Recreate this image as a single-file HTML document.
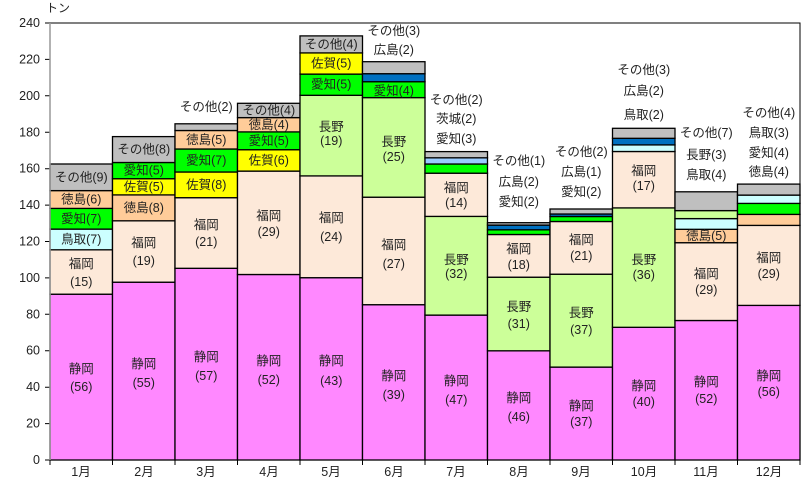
<!DOCTYPE html>
<html><head><meta charset="utf-8"><style>
body{margin:0;background:#fff}
svg{display:block;font-family:"Liberation Sans","Noto Sans CJK JP",sans-serif}
text{font-size:12.5px;fill:#222}
rect{stroke:#000;stroke-width:1.3}
</style></head><body>
<svg width="808" height="491" viewBox="0 0 808 491" xmlns="http://www.w3.org/2000/svg">
<rect x="0" y="0" width="808" height="491" fill="#fff" style="stroke:none"/>
<rect x="50" y="23" width="750" height="437" fill="#fff" style="stroke:#000;stroke-width:1"/>
<g style="font-size:13px" text-anchor="end" dominant-baseline="central">
<text x="40" y="460">0</text><text x="40" y="423.6">20</text><text x="40" y="387.2">40</text><text x="40" y="350.7">60</text><text x="40" y="314.3">80</text><text x="40" y="277.9">100</text><text x="40" y="241.5">120</text><text x="40" y="205.1">140</text><text x="40" y="168.7">160</text><text x="40" y="132.3">180</text><text x="40" y="95.8">200</text><text x="40" y="59.4">220</text><text x="40" y="23">240</text>
</g>
<path d="M45 460H50M45 423.6H50M45 387.2H50M45 350.7H50M45 314.3H50M45 277.9H50M45 241.5H50M45 205.1H50M45 168.7H50M45 132.3H50M45 95.8H50M45 59.4H50M45 23H50" stroke="#000"/>
<path d="M50 460v5M112.5 460v5M175 460v5M237.5 460v5M300 460v5M362.5 460v5M425 460v5M487.5 460v5M550 460v5M612.5 460v5M675 460v5M737.5 460v5M800 460v5" stroke="#000"/>
<text x="46" y="12" style="font-size:12px">トン</text>
<g text-anchor="middle" style="font-size:12px">
<text x="81" y="476">1月</text><text x="144" y="476">2月</text><text x="206" y="476">3月</text><text x="269" y="476">4月</text><text x="331" y="476">5月</text><text x="394" y="476">6月</text><text x="456" y="476">7月</text><text x="519" y="476">8月</text><text x="581" y="476">9月</text><text x="644" y="476">10月</text><text x="706" y="476">11月</text><text x="769" y="476">12月</text>
</g>
<!-- Jan -->
<rect x="50" y="294.2" width="62.5" height="165.8" fill="#FF88FF"/>
<rect x="50" y="249.8" width="62.5" height="44.4" fill="#FDE9D9"/>
<rect x="50" y="229.1" width="62.5" height="20.7" fill="#CCFFFF"/>
<rect x="50" y="208.4" width="62.5" height="20.7" fill="#00FF00"/>
<rect x="50" y="190.6" width="62.5" height="17.8" fill="#FFCC99"/>
<rect x="50" y="164" width="62.5" height="26.6" fill="#BFBFBF"/>
<!-- Feb -->
<rect x="112.5" y="282.2" width="62.5" height="177.8" fill="#FF88FF"/>
<rect x="112.5" y="220.8" width="62.5" height="61.4" fill="#FDE9D9"/>
<rect x="112.5" y="194.9" width="62.5" height="25.9" fill="#FFCC99"/>
<rect x="112.5" y="178.7" width="62.5" height="16.2" fill="#FFFF00"/>
<rect x="112.5" y="162.5" width="62.5" height="16.2" fill="#00FF00"/>
<rect x="112.5" y="136.6" width="62.5" height="25.9" fill="#BFBFBF"/>
<!-- Mar -->
<rect x="175" y="268.3" width="62.5" height="191.7" fill="#FF88FF"/>
<rect x="175" y="197.7" width="62.5" height="70.6" fill="#FDE9D9"/>
<rect x="175" y="172" width="62.5" height="25.7" fill="#FFFF00"/>
<rect x="175" y="149" width="62.5" height="23" fill="#00FF00"/>
<rect x="175" y="130.5" width="62.5" height="18.5" fill="#FFCC99"/>
<rect x="175" y="123.8" width="62.5" height="6.7" fill="#BFBFBF"/>
<!-- Apr -->
<rect x="237.5" y="274.5" width="62.5" height="185.5" fill="#FF88FF"/>
<rect x="237.5" y="171.1" width="62.5" height="103.4" fill="#FDE9D9"/>
<rect x="237.5" y="149.7" width="62.5" height="21.4" fill="#FFFF00"/>
<rect x="237.5" y="131.9" width="62.5" height="17.8" fill="#00FF00"/>
<rect x="237.5" y="117.6" width="62.5" height="14.3" fill="#FFCC99"/>
<rect x="237.5" y="103.3" width="62.5" height="14.3" fill="#BFBFBF"/>
<!-- May -->
<rect x="300" y="277.7" width="62.5" height="182.3" fill="#FF88FF"/>
<rect x="300" y="175.9" width="62.5" height="101.8" fill="#FDE9D9"/>
<rect x="300" y="95.3" width="62.5" height="80.6" fill="#CCFF99"/>
<rect x="300" y="74.1" width="62.5" height="21.2" fill="#00FF00"/>
<rect x="300" y="52.9" width="62.5" height="21.2" fill="#FFFF00"/>
<rect x="300" y="35.9" width="62.5" height="17" fill="#BFBFBF"/>
<!-- Jun -->
<rect x="362.5" y="304.7" width="62.5" height="155.3" fill="#FF88FF"/>
<rect x="362.5" y="197.2" width="62.5" height="107.5" fill="#FDE9D9"/>
<rect x="362.5" y="97.6" width="62.5" height="99.6" fill="#CCFF99"/>
<rect x="362.5" y="81.7" width="62.5" height="15.9" fill="#00FF00"/>
<rect x="362.5" y="73.7" width="62.5" height="8" fill="#0070C0"/>
<rect x="362.5" y="61.7" width="62.5" height="12" fill="#BFBFBF"/>
<!-- Jul -->
<rect x="425" y="315.1" width="62.5" height="144.9" fill="#FF88FF"/>
<rect x="425" y="216.4" width="62.5" height="98.7" fill="#CCFF99"/>
<rect x="425" y="173.2" width="62.5" height="43.2" fill="#FDE9D9"/>
<rect x="425" y="164" width="62.5" height="9.2" fill="#00FF00"/>
<rect x="425" y="157.8" width="62.5" height="6.2" fill="#99CCFF"/>
<rect x="425" y="151.6" width="62.5" height="6.2" fill="#BFBFBF"/>
<!-- Aug -->
<rect x="487.5" y="350.8" width="62.5" height="109.2" fill="#FF88FF"/>
<rect x="487.5" y="277.2" width="62.5" height="73.6" fill="#CCFF99"/>
<rect x="487.5" y="234.5" width="62.5" height="42.7" fill="#FDE9D9"/>
<rect x="487.5" y="229.8" width="62.5" height="4.7" fill="#00FF00"/>
<rect x="487.5" y="225.1" width="62.5" height="4.7" fill="#0070C0"/>
<rect x="487.5" y="222.7" width="62.5" height="2.4" fill="#BFBFBF"/>
<!-- Sep -->
<rect x="550" y="367.1" width="62.5" height="92.9" fill="#FF88FF"/>
<rect x="550" y="274.2" width="62.5" height="92.9" fill="#CCFF99"/>
<rect x="550" y="221.5" width="62.5" height="52.7" fill="#FDE9D9"/>
<rect x="550" y="216.5" width="62.5" height="5" fill="#00FF00"/>
<rect x="550" y="214" width="62.5" height="2.5" fill="#0070C0"/>
<rect x="550" y="209" width="62.5" height="5" fill="#BFBFBF"/>
<!-- Oct -->
<rect x="612.5" y="327.3" width="62.5" height="132.7" fill="#FF88FF"/>
<rect x="612.5" y="207.9" width="62.5" height="119.4" fill="#CCFF99"/>
<rect x="612.5" y="151.5" width="62.5" height="56.4" fill="#FDE9D9"/>
<rect x="612.5" y="144.9" width="62.5" height="6.6" fill="#CCFFFF"/>
<rect x="612.5" y="138.3" width="62.5" height="6.6" fill="#0070C0"/>
<rect x="612.5" y="128.3" width="62.5" height="10" fill="#BFBFBF"/>
<!-- Nov -->
<rect x="675" y="320.5" width="62.5" height="139.5" fill="#FF88FF"/>
<rect x="675" y="242.7" width="62.5" height="77.8" fill="#FDE9D9"/>
<rect x="675" y="229.3" width="62.5" height="13.4" fill="#FFCC99"/>
<rect x="675" y="218.6" width="62.5" height="10.7" fill="#CCFFFF"/>
<rect x="675" y="210.6" width="62.5" height="8" fill="#CCFF99"/>
<rect x="675" y="191.8" width="62.5" height="18.8" fill="#BFBFBF"/>
<!-- Dec -->
<rect x="737.5" y="305.4" width="62.5" height="154.6" fill="#FF88FF"/>
<rect x="737.5" y="225.4" width="62.5" height="80" fill="#FDE9D9"/>
<rect x="737.5" y="214.4" width="62.5" height="11" fill="#FFCC99"/>
<rect x="737.5" y="203.4" width="62.5" height="11" fill="#00FF00"/>
<rect x="737.5" y="195.1" width="62.5" height="8.3" fill="#CCFFFF"/>
<rect x="737.5" y="184.1" width="62.5" height="11" fill="#BFBFBF"/>
<path d="M50 23V460" stroke="#999" stroke-width="1.5"/>

<g text-anchor="middle" dominant-baseline="central">
<!-- Jan -->
<text x="81.25" y="369">静岡</text><text x="81.25" y="387">(56)</text>
<text x="81.25" y="264">福岡</text><text x="81.25" y="282">(15)</text>
<text x="81.25" y="239.5">鳥取(7)</text>
<text x="81.25" y="218.8">愛知(7)</text>
<text x="81.25" y="199.5">徳島(6)</text>
<text x="81.25" y="177.3">その他(9)</text>
<!-- Feb -->
<text x="143.75" y="364">静岡</text><text x="143.75" y="383">(55)</text>
<text x="143.75" y="243">福岡</text><text x="143.75" y="261">(19)</text>
<text x="143.75" y="207.9">徳島(8)</text>
<text x="143.75" y="186.8">佐賀(5)</text>
<text x="143.75" y="170.6">愛知(5)</text>
<text x="143.75" y="149.6">その他(8)</text>
<!-- Mar -->
<text x="206.25" y="357">静岡</text><text x="206.25" y="376">(57)</text>
<text x="206.25" y="225">福岡</text><text x="206.25" y="242">(21)</text>
<text x="206.25" y="185">佐賀(8)</text>
<text x="206.25" y="160.5">愛知(7)</text>
<text x="206.25" y="140">徳島(5)</text>
<text x="206.25" y="107">その他(2)</text>
<!-- Apr -->
<text x="268.75" y="361">静岡</text><text x="268.75" y="380">(52)</text>
<text x="268.75" y="216">福岡</text><text x="268.75" y="232">(29)</text>
<text x="268.75" y="160.4">佐賀(6)</text>
<text x="268.75" y="140.8">愛知(5)</text>
<text x="268.75" y="124.8">徳島(4)</text>
<text x="268.75" y="110.5">その他(4)</text>
<!-- May -->
<text x="331.25" y="361">静岡</text><text x="331.25" y="381">(43)</text>
<text x="331.25" y="218">福岡</text><text x="331.25" y="237">(24)</text>
<text x="331.25" y="127">長野</text><text x="331.25" y="141">(19)</text>
<text x="331.25" y="84.7">愛知(5)</text>
<text x="331.25" y="63.5">佐賀(5)</text>
<text x="331.25" y="44.4">その他(4)</text>
<!-- Jun -->
<text x="393.75" y="376">静岡</text><text x="393.75" y="395">(39)</text>
<text x="393.75" y="245">福岡</text><text x="393.75" y="264">(27)</text>
<text x="393.75" y="142">長野</text><text x="393.75" y="157">(25)</text>
<text x="393.75" y="91">愛知(4)</text>
<text x="393.75" y="31">その他(3)</text>
<text x="393.75" y="50">広島(2)</text>
<!-- Jul -->
<text x="456.25" y="381">静岡</text><text x="456.25" y="400">(47)</text>
<text x="456.25" y="260">長野</text><text x="456.25" y="274">(32)</text>
<text x="456.25" y="188">福岡</text><text x="456.25" y="203">(14)</text>
<text x="456.25" y="100">その他(2)</text>
<text x="456.25" y="119">茨城(2)</text>
<text x="456.25" y="139">愛知(3)</text>
<!-- Aug -->
<text x="518.75" y="398">静岡</text><text x="518.75" y="417">(46)</text>
<text x="518.75" y="307">長野</text><text x="518.75" y="324">(31)</text>
<text x="518.75" y="249">福岡</text><text x="518.75" y="265">(18)</text>
<text x="518.75" y="161">その他(1)</text>
<text x="518.75" y="182">広島(2)</text>
<text x="518.75" y="202">愛知(2)</text>
<!-- Sep -->
<text x="581.25" y="406">静岡</text><text x="581.25" y="422">(37)</text>
<text x="581.25" y="313">長野</text><text x="581.25" y="330">(37)</text>
<text x="581.25" y="240">福岡</text><text x="581.25" y="256">(21)</text>
<text x="581.25" y="152">その他(2)</text>
<text x="581.25" y="172">広島(1)</text>
<text x="581.25" y="192">愛知(2)</text>
<!-- Oct -->
<text x="643.75" y="386">静岡</text><text x="643.75" y="402">(40)</text>
<text x="643.75" y="260">長野</text><text x="643.75" y="275">(36)</text>
<text x="643.75" y="171">福岡</text><text x="643.75" y="186">(17)</text>
<text x="643.75" y="70">その他(3)</text>
<text x="643.75" y="91">広島(2)</text>
<text x="643.75" y="115">鳥取(2)</text>
<!-- Nov -->
<text x="706.25" y="382">静岡</text><text x="706.25" y="399">(52)</text>
<text x="706.25" y="274">福岡</text><text x="706.25" y="290">(29)</text>
<text x="706.25" y="236">徳島(5)</text>
<text x="706.25" y="133">その他(7)</text>
<text x="706.25" y="155">長野(3)</text>
<text x="706.25" y="175">鳥取(4)</text>
<!-- Dec -->
<text x="768.75" y="376">静岡</text><text x="768.75" y="392">(56)</text>
<text x="768.75" y="258">福岡</text><text x="768.75" y="274">(29)</text>
<text x="768.75" y="113">その他(4)</text>
<text x="768.75" y="133">鳥取(3)</text>
<text x="768.75" y="153">愛知(4)</text>
<text x="768.75" y="172">徳島(4)</text>
</g>
</svg>
</body></html>
